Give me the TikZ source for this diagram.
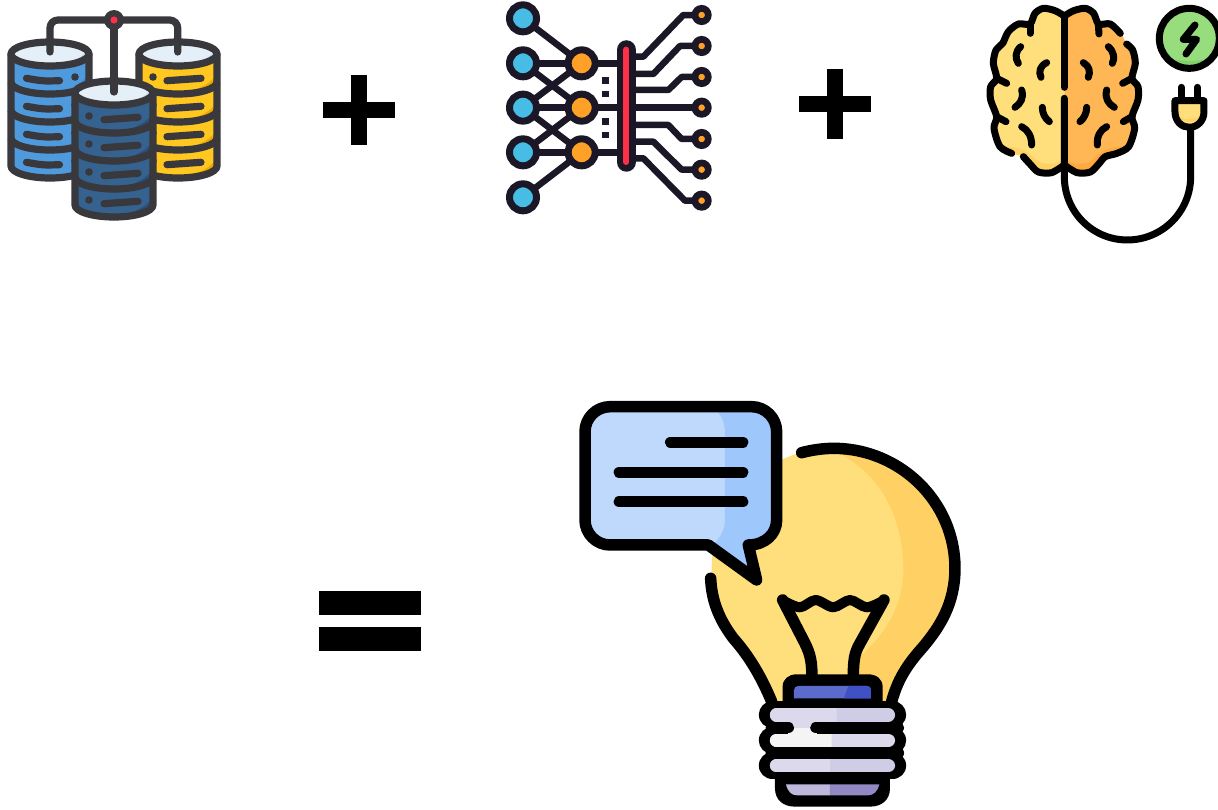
\documentclass[tikz,border=0pt]{standalone}
\definecolor{dbline}{HTML}{38383D}
\definecolor{dbtop}{HTML}{E4EFF7}
\definecolor{dbtopd}{HTML}{C6DBEE}
\definecolor{dbblue}{HTML}{4F9ADC}
\definecolor{dbblued}{HTML}{3A80CC}
\definecolor{dbyel}{HTML}{FFC71F}
\definecolor{dbyeld}{HTML}{EBA800}
\definecolor{dbnavy}{HTML}{35628F}
\definecolor{dbnavyd}{HTML}{2A4F78}
\definecolor{netline}{HTML}{1B1726}
\definecolor{netblue}{HTML}{47BDE6}
\definecolor{netorange}{HTML}{FFA126}
\definecolor{netred}{HTML}{FF2F48}
\definecolor{yelA}{HTML}{FFDF7C}
\definecolor{yelB}{HTML}{FFD064}
\definecolor{orA}{HTML}{FFB655}
\definecolor{orB}{HTML}{FFA93E}
\definecolor{grA}{HTML}{98DD7D}
\definecolor{grB}{HTML}{82D068}
\definecolor{bubA}{HTML}{BFD9FD}
\definecolor{bubB}{HTML}{9EC8FB}
\definecolor{capA}{HTML}{5B6BCB}
\definecolor{capB}{HTML}{3F51C4}
\definecolor{scrA}{HTML}{DDD9EC}
\definecolor{scrB}{HTML}{CFCDE6}
\definecolor{scrC}{HTML}{F4F4F4}
\definecolor{botA}{HTML}{BDB8DC}
\definecolor{botB}{HTML}{9188C4}
\tikzset{
  dbstroke/.style={draw=dbline,line width=7.2pt,line cap=round,line join=round},
  netstroke/.style={draw=netline,line width=6.5pt,line join=round},
  brainstroke/.style={draw=black,line width=7pt,line cap=round,line join=round},
  bulbstroke/.style={draw=black,line width=11.5pt,line cap=round,line join=round},
  sign/.style={fill=black}
}
% cylinder: centre x, ellipse centre y, main colour, shade colour, pill start, pill end, dot x, pill tilt
\newcommand{\dbcyl}[8]{%
  \fill[#3] ({#1-39},#2) -- ({#1-39},{#2+112}) arc[start angle=180,end angle=0,x radius=39,y radius=12] -- ({#1+39},#2) -- cycle;
  \foreach \k in {1,2,3,4}{
    \fill[#4] ({#1+39},{#2+28*\k}) arc[start angle=0,end angle=90,x radius=39,y radius=12]
      .. controls ({#1+24},{#2+28*\k+7}) and ({#1+34},{#2+28*\k+1}) .. ({#1+39},{#2+28*\k-9}) -- cycle;
    \draw[dbline,line width=7.2pt,line cap=round] ({#1+#5},{#2+28*\k-2.5-#8}) .. controls ({#1+(#5+#6)/2},{#2+28*\k-2+#8}) .. ({#1+#6},{#2+28*\k-2.5+#8});
    \fill[dbline] ({#1+#7},{#2+28*\k-5}) circle[radius=3.8];
  }
  \fill[dbtop] (#1,#2) ellipse[x radius=39,y radius=12];
  \fill[dbtopd] ({#1+39},#2) arc[start angle=0,end angle=90,x radius=39,y radius=12]
     .. controls ({#1+22},{#2+8}) and ({#1+32},{#2+5}) .. ({#1+36},{#2-4}) -- cycle;
  \draw[dbstroke] (#1,#2) ellipse[x radius=39,y radius=12];
  \draw[dbstroke] ({#1-39},#2) -- ({#1-39},{#2+112}) arc[start angle=180,end angle=0,x radius=39,y radius=12] -- ({#1+39},#2);
  \foreach \k in {1,2,3}{
    \draw[dbstroke,line cap=butt] ({#1-39},{#2+28*\k}) arc[start angle=180,end angle=0,x radius=39,y radius=12];
  }
}
\newcommand{\brainpts}{(253,48)(225,32)(190,25)(165,40)(150,72)(115,72)(85,95)(68,130)(48,150)(40,190)(50,235)(32,260)(32,300)(50,350)(42,385)(60,440)(95,460)(130,470)(150,492)(175,516)(215,518)(253,495)}
\newcommand{\screwband}[4]{%
  \draw[black,line width=27pt,line cap=round] (607,#1) -- (968,#1);
  \draw[#3,line width=13.5pt,line cap=round] (620,#1) -- (955,#1);
  \begin{scope}
    \clip (560,{#1-40}) rectangle (#2,{#1+40});
    \draw[#4,line width=13.5pt,line cap=round] (620,#1) -- (955,#1);
  \end{scope}
}
\begin{document}
\begin{tikzpicture}[x=1pt,y=-1pt]
\useasboundingbox (0,0) rectangle (1218,809);
\clip (0,0) rectangle (1218,809);
\fill[white] (0,0) rectangle (1218,809);

% ---------- database ----------
\dbcyl{50}{54}{dbblue}{dbblued}{-23.5}{9.5}{25}{1.2}
\dbcyl{178}{54}{dbyel}{dbyeld}{-11}{23}{-25}{-1.2}
\draw[dbstroke,rounded corners=8pt] (50,52) -- (50,20) -- (177.7,20) -- (177.7,52);
\dbcyl{114}{93}{dbnavy}{dbnavyd}{-10}{24}{-25}{-1.2}
\draw[dbstroke] (114,20) -- (114,92);
\fill[dbline] (114,20) circle[radius=10];
\fill[netred] (114,20) circle[radius=3.6];

% ---------- network ----------
\begin{scope}[shift={(495,0)},x=0.3333pt,y=-0.3333pt]
  \foreach \a/\b in {55/190,190/190,190/323,323/190,323/323,323/457,457/323,457/457,592/457}
    \draw[netstroke] (84,\a) -- (260,\b);
  \foreach \b in {190,323,457} \draw[netstroke] (260,\b) -- (393,\b);
  \foreach \a/\b/\c/\d/\e in {170/445/565/45/45,222/475/555/138/138,270/520/560/231/231,323/520/560/323/323,375/520/560/417/417,425/475/560/509/509,475/445/570/602/602}
    \draw[netstroke] (400,\a) -- (\b,\a) -- (\c,\d) -- (620,\e);
  \foreach \a in {55,190,323,457,592}{
    \fill[netblue,draw=netline,line width=7pt] (84,\a) circle[radius=40.5];}
  \foreach \a in {190,323,457}{
    \fill[netorange,draw=netline,line width=7pt] (260,\a) circle[radius=40.5];}
  \foreach \a in {45,138,231,323,417,509,602}{
    \fill[netorange,draw=netline,line width=6.7pt] (620,\a) circle[radius=20];}
  \foreach \a in {241,282,365,405}
    \fill[netline] (322,{\a-10}) rectangle (342,{\a+10});
  \draw[netline,line width=19.5pt,line cap=round] (394,150) -- (394,486);
  \draw[netred,line width=6pt,line cap=round] (394,149) -- (394,486);
\end{scope}

% ---------- brain ----------
\begin{scope}[shift={(980,0)},x=0.3333pt,y=-0.3333pt]
  % halves
  \begin{scope}
    \clip plot[smooth] coordinates {\brainpts} -- cycle;
    \fill[yelA] (0,0) rectangle (253,540);
    \fill[yelB] (60,440) .. controls (120,435) and (150,460) .. (175,485) .. controls (205,500) and (235,490) .. (253,475) -- (253,540) -- (60,540) -- cycle;
  \end{scope}
  \begin{scope}[shift={(506,0)},xscale=-1]
    \clip plot[smooth] coordinates {\brainpts} -- cycle;
    \fill[orA] (0,0) rectangle (253,540);
    \fill[orB] (60,440) .. controls (120,435) and (150,460) .. (175,485) .. controls (205,500) and (235,490) .. (253,475) -- (253,540) -- (60,540) -- cycle;
  \end{scope}
  % outline with its two gaps
  \draw[brainstroke] plot[smooth] coordinates {(253,48)(225,32)(190,25)(165,40)(150,72)(115,72)(85,95)(68,130)(48,150)(40,190)(50,235)(32,260)(32,300)(50,350)(42,385)(60,440)(95,460)};
  \draw[brainstroke] plot[smooth] coordinates {(130,470)(150,492)(175,516)(215,518)(253,495)};
  \draw[brainstroke] plot[smooth] coordinates {(253,48)(281,32)(316,25)(341,40)(356,72)(391,72)(421,100)};
  \draw[brainstroke] plot[smooth] coordinates {(440,132)(458,150)(466,190)(456,235)(474,260)(474,300)(456,350)(464,385)(446,440)(411,460)(376,470)(356,492)(331,516)(291,518)(253,495)};
  % centre line and cable
  \draw[brainstroke] (253,48) -- (253,262);
  \draw[brainstroke] (253,295) -- (253,530) .. controls (253,635) and (337,720) .. (442,720) .. controls (547,720) and (632,635) .. (632,530) -- (632,385);
  % wrinkles
  \draw[brainstroke] (122,140) .. controls (105,155) and (105,175) .. (115,190);
  \draw[brainstroke] (200,188) .. controls (180,198) and (175,215) .. (183,232);
  \draw[brainstroke] (125,270) .. controls (132,295) and (122,310) .. (105,322);
  \draw[brainstroke] (187,322) .. controls (187,340) and (195,355) .. (208,365);
  \draw[brainstroke] (125,380) .. controls (145,390) and (155,410) .. (155,435);
  \draw[brainstroke] (150,72) -- (150,100);
  \draw[brainstroke] (50,235) -- (80,250);
  \draw[brainstroke] (50,350) -- (78,365);
  \draw[brainstroke] (385,140) .. controls (402,155) and (405,175) .. (397,190);
  \draw[brainstroke] (310,188) .. controls (328,198) and (332,215) .. (325,232);
  \draw[brainstroke] (380,270) .. controls (374,295) and (385,312) .. (403,322);
  \draw[brainstroke] (320,322) .. controls (320,340) and (312,355) .. (300,365);
  \draw[brainstroke] (380,380) .. controls (360,390) and (350,410) .. (352,435);
  \draw[brainstroke] (355,72) -- (357,102);
  \draw[brainstroke] (456,235) -- (428,250);
  \draw[brainstroke] (456,350) -- (430,365);
  % plug
  \draw[brainstroke] (604,262) -- (604,300);
  \draw[brainstroke] (652,262) -- (652,300);
  \fill[yelA] (585,302) -- (672,302) -- (672,335) .. controls (672,365) and (650,382) .. (628,382) .. controls (606,382) and (585,365) .. (585,335) -- cycle;
  \fill[yelB] (593,345) .. controls (610,362) and (648,362) .. (664,345) .. controls (660,372) and (598,372) .. (593,345) -- cycle;
  \draw[brainstroke] (585,302) -- (672,302) -- (672,335) .. controls (672,365) and (650,382) .. (628,382) .. controls (606,382) and (585,365) .. (585,335) -- cycle;
  % power badge
  \fill[grA] (628,115) circle[radius=90];
  \begin{scope}
    \clip (628,115) circle[radius=90];
    \fill[grB] (530,160) .. controls (580,190) and (680,190) .. (730,160) -- (730,230) -- (530,230) -- cycle;
  \end{scope}
  \draw[brainstroke] (628,115) circle[radius=90];
  \draw[brainstroke] (645,75) -- (610,118) -- (650,118) -- (618,162);
\end{scope}

% ---------- plus signs and equals ----------
\fill[sign] (350.5,75) rectangle (367,145);
\fill[sign] (323,102) rectangle (394.5,118);
\fill[sign] (826.5,69) rectangle (843,139);
\fill[sign] (799,96) rectangle (870.5,112);
\fill[sign] (319,591) rectangle (421,615);
\fill[sign] (319,627) rectangle (421,651);

% ---------- bulb ----------
\begin{scope}[shift={(570,390)},x=0.3333pt,y=-0.3333pt]
  \begin{scope}
    \clip (605,935) .. controls (570,850) and (530,790) .. (490,745) .. controls (440,680) and (420,610) .. (425,535)
      .. controls (425,335) and (590,175) .. (790,175) .. controls (990,175) and (1155,335) .. (1155,535)
      .. controls (1155,640) and (1110,710) .. (1060,770) .. controls (1020,815) and (985,860) .. (965,935) -- cycle;
    \fill[yelA] (400,150) rectangle (1180,940);
    \fill[yelB] (750,170) .. controls (900,210) and (1000,350) .. (1000,540) .. controls (1000,640) and (950,730) .. (870,800) -- (850,940) -- (1200,940) -- (1200,150) -- cycle;
  \end{scope}
  \draw[bulbstroke] (695,188) .. controls (725,180) and (760,175) .. (790,175) .. controls (990,175) and (1155,335) .. (1155,535)
      .. controls (1155,640) and (1110,710) .. (1060,770) .. controls (1020,815) and (985,860) .. (965,935);
  \draw[bulbstroke] (422,565) .. controls (425,630) and (445,685) .. (490,745) .. controls (530,790) and (570,850) .. (605,935);
  % filament
  \draw[bulbstroke,line width=10pt] plot[smooth] coordinates {(640,632)(690,652)(737,630)(790,652)(840,630)(890,652)(940,632)};
  \draw[bulbstroke] (638,630) -- (705,760) .. controls (722,795) and (726,815) .. (726,870);
  \draw[bulbstroke] (942,630) -- (870,760) .. controls (852,790) and (850,815) .. (850,870);
  % socket
  \fill[black] (638,950) -- (638,890) .. controls (638,868) and (655,853) .. (680,853) -- (895,853) .. controls (920,853) and (938,868) .. (938,890) -- (938,950) -- cycle;
  \fill[capA] (672,925) -- (672,900) .. controls (672,892) and (678,888) .. (686,888) -- (890,888) .. controls (898,888) and (903,892) .. (903,900) -- (903,925) -- cycle;
  \fill[capB] (822,925) -- (835,888) -- (890,888) .. controls (898,888) and (903,892) .. (903,900) -- (903,925) -- cycle;
  % bottom cap
  \fill[black] (615,1140) -- (960,1140) -- (960,1195) .. controls (960,1230) and (935,1250) .. (900,1250) -- (675,1250) .. controls (640,1250) and (615,1230) .. (615,1195) -- cycle;
  \fill[botA] (648,1183) -- (780,1183) -- (780,1216) -- (680,1216) .. controls (665,1216) and (653,1205) .. (648,1183) -- cycle;
  \fill[botB] (780,1183) -- (928,1183) .. controls (923,1205) and (910,1216) .. (895,1216) -- (780,1216) -- cycle;
  % screw thread
  \screwband{975}{800}{scrB}{scrA}
  \screwband{1051}{785}{scrA}{scrC}
  \screwband{1127}{780}{scrB}{scrA}
  \fill[scrA] (655,995) rectangle (740,1013);
  \fill[scrC] (655,1013) rectangle (740,1032);
  \draw[bulbstroke] (604,1013) -- (655,1013);
  \draw[bulbstroke] (738,1013) -- (985,1013);
  \draw[bulbstroke] (604,1089) -- (985,1089);
  % speech bubble
  \fill[bubA] (120,50) -- (545,50) .. controls (586,50) and (620,84) .. (620,125) -- (620,390) .. controls (620,431) and (586,465) .. (535,465) -- (560,570) -- (415,465) -- (120,465) .. controls (79,465) and (45,431) .. (45,390) -- (45,125) .. controls (45,84) and (79,50) .. (120,50) -- cycle;
  \fill[bubB] (430,50) .. controls (455,75) and (465,100) .. (465,130) -- (465,390) .. controls (465,420) and (450,445) .. (425,468) -- (560,570) -- (535,465) .. controls (586,465) and (620,431) .. (620,390) -- (620,125) .. controls (620,84) and (586,50) .. (545,50) -- cycle;
  \draw[bulbstroke] (120,50) -- (545,50) .. controls (586,50) and (620,84) .. (620,125) -- (620,390) .. controls (620,431) and (586,465) .. (535,465) -- (560,570) -- (415,465) -- (120,465) .. controls (79,465) and (45,431) .. (45,390) -- (45,125) .. controls (45,84) and (79,50) .. (120,50) -- cycle;
  \draw[bulbstroke] (302,157) -- (518,157);
  \draw[bulbstroke] (148,247) -- (518,247);
  \draw[bulbstroke] (148,335) -- (518,335);
\end{scope}
\end{tikzpicture}
\end{document}
